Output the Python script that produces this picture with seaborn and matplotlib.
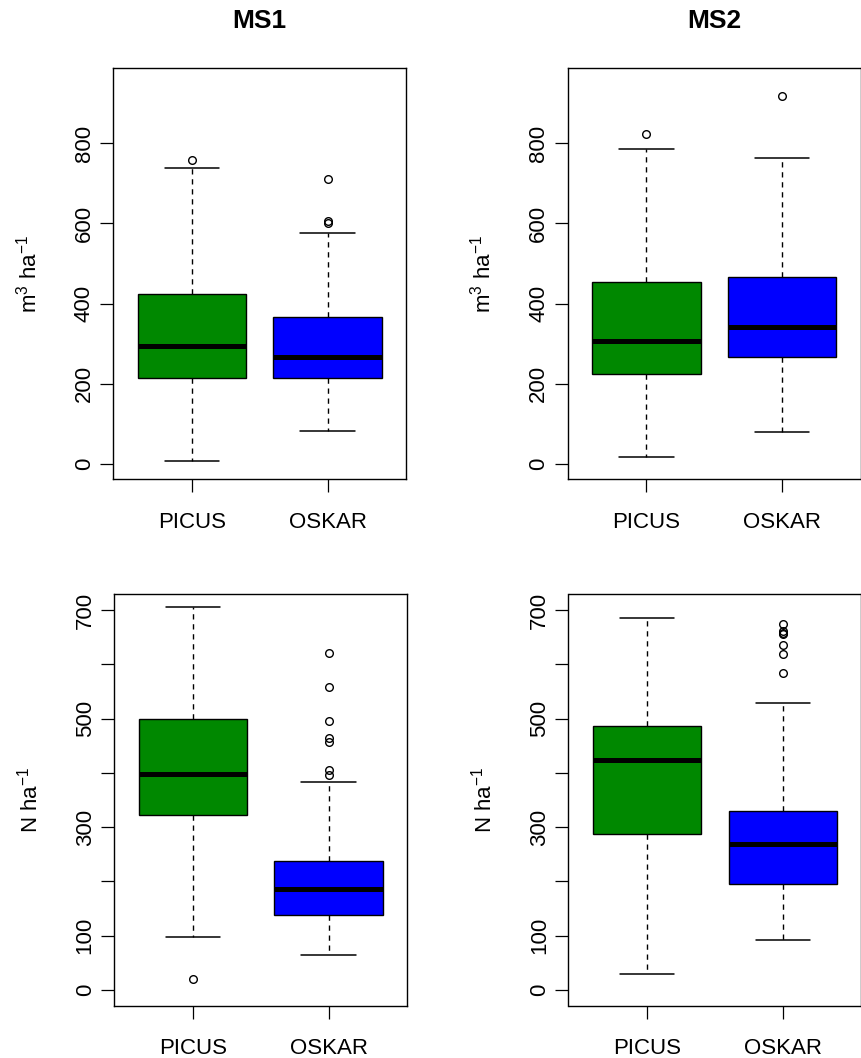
import numpy as np
import pandas as pd
import matplotlib
matplotlib.use("Agg")
import matplotlib.pyplot as plt
import seaborn as sns

# five-number summaries: [lower whisker, Q1, median, Q3, upper whisker]
models = ["PICUS", "OSKAR"]
vol_ms1_picus = [8, 214, 295, 425, 739]
vol_ms1_picus_out = [758]
vol_ms1_oskar = [83, 215, 267, 367, 576]
vol_ms1_oskar_out = [601, 606, 712]
vol_ms2_picus = [18, 224, 306, 454, 786]
vol_ms2_picus_out = [823]
vol_ms2_oskar = [81, 268, 342, 467, 763]
vol_ms2_oskar_out = [918]
n_ms1_picus = [98, 322, 397, 500, 706]
n_ms1_picus_out = [20]
n_ms1_oskar = [64, 138, 186, 237, 383]
n_ms1_oskar_out = [396, 406, 456, 464, 496, 558, 621]
n_ms2_picus = [30, 287, 423, 487, 686]
n_ms2_picus_out = []
n_ms2_oskar = [93, 195, 269, 330, 529]
n_ms2_oskar_out = [584, 619, 635, 655, 658, 662, 674]

vol_ticks = [0, 200, 400, 600, 800]
vol_ticklabels = ["0", "200", "400", "600", "800"]
n_ticks = [0, 100, 200, 300, 400, 500, 600, 700]
n_ticklabels = ["0", "100", "", "300", "", "500", "", "700"]

colors = ["#008800", "#0000FF"]


def summary_sample(five, outliers, k=20):
    # sample whose quartiles / whiskers reproduce the summary exactly
    lo, q1, med, q3, hi = five
    return [lo] + [q1] * k + [med] * k + [q3] * k + [hi] + list(outliers)


def make_df(picus, picus_out, oskar, oskar_out):
    a = summary_sample(picus, picus_out)
    b = summary_sample(oskar, oskar_out)
    return pd.DataFrame({"model": ["PICUS"] * len(a) + ["OSKAR"] * len(b),
                         "value": a + b})


sns.set_style("ticks")
plt.rcParams["font.family"] = ["Liberation Sans", "DejaVu Sans"]
plt.rcParams["mathtext.fontset"] = "custom"
plt.rcParams["mathtext.rm"] = "Liberation Sans"
plt.rcParams["mathtext.it"] = "Liberation Sans:italic"
plt.rcParams["mathtext.bf"] = "Liberation Sans:bold"
for key in ["text.color", "axes.labelcolor", "xtick.color", "ytick.color", "axes.edgecolor"]:
    plt.rcParams[key] = "black"

W, H = 862, 1058
fig = plt.figure(figsize=(W / 100, H / 100), dpi=100)

panels = [
    # left px, top px, bottom px, df, ylim, ticks, labels, ylabel, title
    (113.3, 68.3, 479.3, make_df(vol_ms1_picus, vol_ms1_picus_out, vol_ms1_oskar, vol_ms1_oskar_out),
     (-38.2, 987.1), vol_ticks, vol_ticklabels, r"m$^{3}$ ha$^{-1}$", "MS1"),
    (567.7, 68.3, 479.3, make_df(vol_ms2_picus, vol_ms2_picus_out, vol_ms2_oskar, vol_ms2_oskar_out),
     (-38.2, 987.1), vol_ticks, vol_ticklabels, r"m$^{3}$ ha$^{-1}$", "MS2"),
    (114.3, 594.3, 1006, make_df(n_ms1_picus, n_ms1_picus_out, n_ms1_oskar, n_ms1_oskar_out),
     (-29.5, 728.9), n_ticks, n_ticklabels, r"N ha$^{-1}$", None),
    (568.5, 594.3, 1006, make_df(n_ms2_picus, n_ms2_picus_out, n_ms2_oskar, n_ms2_oskar_out),
     (-29.5, 728.9), n_ticks, n_ticklabels, r"N ha$^{-1}$", None),
]

for left, top, bottom, df, ylim, ticks, labels, ylab, title in panels:
    ax = fig.add_axes([left / W, 1 - bottom / H, 293 / W, (bottom - top) / H])
    sns.boxplot(data=df, x="model", y="value", hue="model", order=models,
                hue_order=models, palette=colors, saturation=1, width=0.8,
                linewidth=1.0, linecolor="black", whis=1.5, legend=False, ax=ax,
                medianprops=dict(linewidth=3.6, solid_capstyle="butt"),
                whiskerprops=dict(linestyle=(0, (3.8, 3.4)), linewidth=1.0),
                capprops=dict(linewidth=1.1),
                flierprops=dict(marker="o", markerfacecolor="none",
                                markeredgecolor="black", markeredgewidth=1.0,
                                markersize=5.5))
    ax.set_xlim(-0.58, 1.58)
    ax.set_ylim(*ylim)
    ax.set_yticks(ticks)
    ax.set_yticklabels(labels, rotation=90, va="center", fontsize=16)
    ax.set_xticks([0, 1])
    ax.set_xticklabels(models, fontsize=16)
    ax.tick_params(axis="both", direction="out", length=9.4, width=0.9, color="black")
    ax.tick_params(axis="y", pad=4)
    ax.tick_params(axis="x", pad=14)
    ax.set_xlabel("")
    ax.set_ylabel(ylab, fontsize=16)
    ax.yaxis.set_label_coords(-0.245, 0.5)
    for s in ax.spines.values():
        s.set_visible(True)
        s.set_color("black")
        s.set_linewidth(1.0)
    if title:
        ax.set_title(title, fontsize=19, fontweight="bold", pad=29)

fig.savefig("out.png", dpi=100)
